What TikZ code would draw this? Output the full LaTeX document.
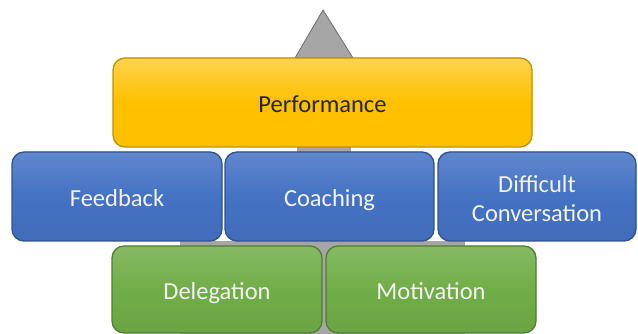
\documentclass[tikz,border=0pt]{standalone}
\usepackage{fontspec}
\setmainfont{Carlito}
\usepackage{tikz}

\definecolor{perfyellow}{HTML}{FFC000}
\definecolor{perfedge}{HTML}{BF9000}
\definecolor{skillblue}{HTML}{4472C4}
\definecolor{blueedge}{HTML}{2F528F}
\definecolor{basegreen}{HTML}{70AD47}
\definecolor{greenedge}{HTML}{507E32}
\definecolor{arrowgrey}{HTML}{A6A6A6}
\definecolor{arrowedge}{HTML}{6E6E6E}

\begin{document}
\begin{tikzpicture}[x=1pt,y=1pt,
	block/.style={draw,line width=1.3pt,rounded corners=12pt,
		font=\fontsize{24.5}{29}\selectfont,inner sep=0pt},
	oneline/.style={text height=20pt,text depth=0pt},
	topblock/.style={block,oneline,fill=perfyellow,draw=perfedge,text=black!85,
		top color=perfyellow!70!white,bottom color=perfyellow,middle color=perfyellow},
	midblock/.style={block,fill=skillblue,draw=blueedge,text=white!95!black,
		top color=skillblue!85!white,bottom color=skillblue!95!black,middle color=skillblue},
	lowblock/.style={block,oneline,fill=basegreen,draw=greenedge,text=white!95!black,
		top color=basegreen!85!white,bottom color=basegreen!95!black,middle color=basegreen}]
	\useasboundingbox (0,0) rectangle (638,334);

	% Arrow behind the blocks
	\fill[arrowgrey] (180,0) rectangle (465,93);
	\fill[arrowgrey] (297,93) rectangle (351,276);
	\filldraw[fill=arrowgrey,draw=arrowedge,line width=0.8pt,line join=round]
		(295,276) -- (323,324) -- (353,276) -- cycle;

	% Nodes
	\node[topblock,minimum width=419pt,minimum height=89pt] (perf) at (322.5,231.5) {Performance};
	\node[midblock,oneline,minimum width=210pt,minimum height=89pt] (feedback) at (117,137.5) {Feedback};
	\node[midblock,oneline,minimum width=209pt,minimum height=89pt] (coaching) at (329.5,137.5) {Coaching};
	\node[midblock,align=center,text height=50pt,minimum width=198pt,minimum height=89pt] (difficult) at (537,137.5) {Difficult\\Conversation};
	\node[lowblock,minimum width=210pt,minimum height=87pt] (delegation) at (217,44.5) {Delegation};
	\node[lowblock,minimum width=210pt,minimum height=87pt] (motivation) at (431,44.5) {Motivation};
\end{tikzpicture}
\end{document}
